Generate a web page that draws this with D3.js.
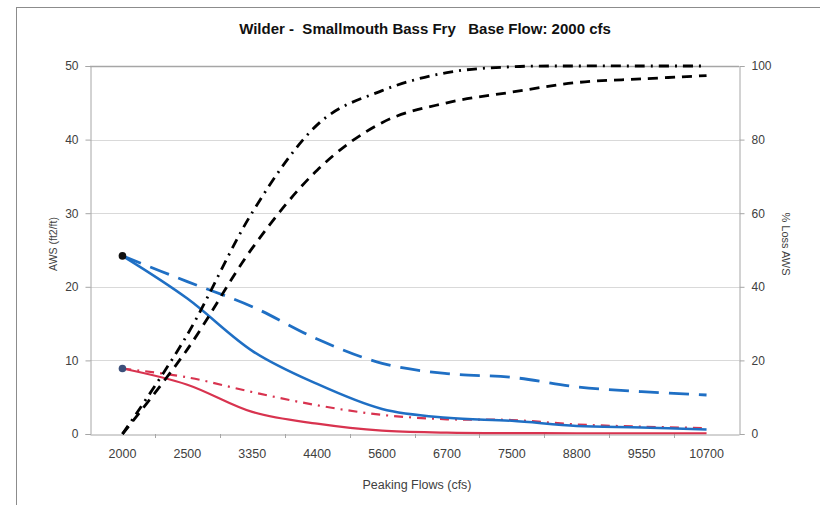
<!DOCTYPE html>
<html><head><meta charset="utf-8">
<script src="https://cdn.jsdelivr.net/npm/d3@7"></script>
<style>
html,body{margin:0;padding:0;background:#fff;}
svg{display:block;}
text{font-family:"Liberation Sans",Arial,sans-serif;}
</style></head>
<body>
<svg id="chart" width="820" height="505"></svg>
<script>
const categories = ["2000","2500","3350","4400","5600","6700","7500","8800","9550","10700"];
const awsBlueSolid  = [24.2, 18.4, 11.3, 6.8, 3.4, 2.2, 1.8, 1.1, 0.9, 0.6];
const awsBlueDashed = [24.2, 20.7, 17.3, 12.9, 9.6, 8.2, 7.7, 6.4, 5.75, 5.3];
const awsRedSolid   = [8.9, 6.7, 3.0, 1.4, 0.45, 0.2, 0.12, 0.1, 0.1, 0.1];
const awsRedDashDot = [8.9, 7.7, 5.7, 3.9, 2.6, 2.0, 1.9, 1.3, 1.0, 0.8];
const lossDashed    = [0, 23, 50.5, 71.7, 84.6, 90, 92.9, 95.5, 96.5, 97.4];
const lossDashDot   = [0, 27, 60.2, 84, 93.3, 98.2, 99.8, 100, 100, 100];
const leftTicks  = [0, 10, 20, 30, 40, 50];
const rightTicks = [0, 20, 40, 60, 80, 100];
const titleText = "Wilder -  Smallmouth Bass Fry   Base Flow: 2000 cfs";

const svg = d3.select("#chart");
const m = {left: 90, right: 739, top: 66, bottom: 434};

// outer frame
svg.append("rect").attr("x",16.5).attr("y",7.5).attr("width",900).attr("height",700)
  .attr("fill","none").attr("stroke","#8c8c8c").attr("stroke-width",1);

const x = d3.scaleBand().domain(categories).range([m.left, m.right]);
const yL = d3.scaleLinear().domain([0,50]).range([m.bottom, m.top]);
const yR = d3.scaleLinear().domain([0,100]).range([m.bottom, m.top]);
const cx = d => x(d) + x.bandwidth()/2;

// gridlines
svg.append("g").selectAll("line").data(leftTicks.filter(v=>v>0)).join("line")
  .attr("x1",m.left).attr("x2",m.right)
  .attr("y1",d=>Math.round(yL(d))+0.5).attr("y2",d=>Math.round(yL(d))+0.5)
  .attr("stroke",d=>d===50?"#a6a6a6":"#d9d9d9").attr("stroke-width",d=>d===50?1.5:1);

// left axis
const axL = svg.append("g").attr("transform",`translate(${m.left+0.5},0)`)
  .call(d3.axisLeft(yL).tickValues(leftTicks).tickSize(5).tickPadding(7));
axL.select(".domain").attr("stroke","#a6a6a6");
axL.selectAll(".tick line").attr("stroke","#a6a6a6");
axL.selectAll("text").attr("font-size",12).attr("fill","#404040");

// right axis
const axR = svg.append("g").attr("transform",`translate(${m.right+0.5},0)`)
  .call(d3.axisRight(yR).tickValues(rightTicks).tickSize(5).tickPadding(7));
axR.select(".domain").attr("stroke","#a6a6a6");
axR.selectAll(".tick line").attr("stroke","#a6a6a6");
axR.selectAll("text").attr("font-size",12).attr("fill","#404040");

// bottom axis
const axB = svg.append("g").attr("transform",`translate(0,${m.bottom+0.5})`)
  .call(d3.axisBottom(x).tickSize(0).tickPadding(15));
axB.select(".domain").attr("stroke","#a6a6a6");
axB.selectAll("text").attr("font-size",12.5).attr("fill","#404040");
svg.append("g").selectAll("line").data(categories.slice(1)).join("line")
  .attr("x1",d=>Math.round(x(d))+0.5).attr("x2",d=>Math.round(x(d))+0.5)
  .attr("y1",m.bottom).attr("y2",m.bottom+4).attr("stroke","#a6a6a6");

// lines
const curve = d3.curveCatmullRom.alpha(0);
function drawLine(vals, scale, color, width, dash){
  const line = d3.line().x((d,i)=>cx(categories[i])).y(d=>scale(d)).curve(curve);
  svg.append("path").datum(vals).attr("d",line).attr("fill","none")
    .attr("stroke",color).attr("stroke-width",width)
    .attr("stroke-dasharray",dash||null).attr("stroke-linecap","butt");
}
const blue = "#1f6fc4", red = "#d8334f";
drawLine(awsBlueDashed, yL, blue, 2.8, "20,10");
drawLine(awsRedDashDot, yL, red, 2.2, "9,6,2,6");
drawLine(awsRedSolid, yL, red, 2.2, null);
drawLine(awsBlueSolid, yL, blue, 2.5, null);
drawLine(lossDashed, yR, "#000", 2.8, "10,7");
drawLine(lossDashDot, yR, "#000", 2.8, "10,6,2,6");

// start markers
svg.append("circle").attr("cx",cx(categories[0])).attr("cy",yL(awsBlueSolid[0])).attr("r",3.8).attr("fill","#111");
svg.append("circle").attr("cx",cx(categories[0])).attr("cy",yL(awsRedSolid[0])).attr("r",3.8).attr("fill","#3c4f7a");

// titles
svg.append("text").attr("x",425).attr("y",33.5).attr("text-anchor","middle")
  .attr("font-size",15).attr("font-weight","bold").attr("fill","#111")
  .style("white-space","pre").text(titleText);
svg.append("text").attr("x",417).attr("y",489).attr("text-anchor","middle")
  .attr("font-size",12.5).attr("fill","#404040").text("Peaking Flows (cfs)");
svg.append("text").attr("transform","translate(57,244) rotate(-90)").attr("text-anchor","middle")
  .attr("font-size",10.5).attr("fill","#404040").text("AWS (ft2/ft)");
svg.append("text").attr("transform","translate(782,244) rotate(90)").attr("text-anchor","middle")
  .attr("font-size",11).attr("fill","#404040").text("% Loss AWS");
</script>
</body></html>
